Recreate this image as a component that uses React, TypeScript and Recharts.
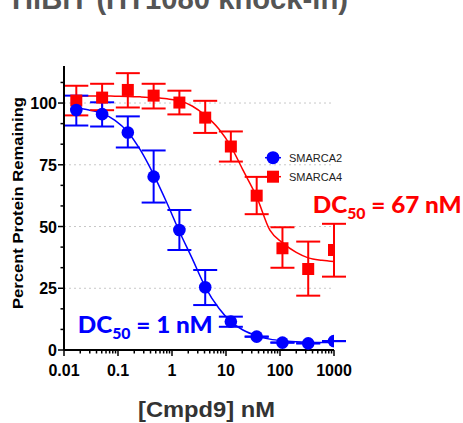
import React from 'react';
import {
  ComposedChart,
  Line,
  Scatter,
  XAxis,
  YAxis,
  ErrorBar,
  ReferenceLine,
} from 'recharts';

// Concentrations (nM), 3-fold dilution series
const conc = [0.0169, 0.0508, 0.152, 0.457, 1.37, 4.12, 12.3, 37.0, 111, 333, 1000];

// SMARCA2 (blue circles)
const a2Mean = [97.2, 95.5, 88.1, 70.2, 48.6, 25.4, 11.5, 5.4, 3.0, 2.7, 3.6];
const a2Low = [90.9, 90.5, 82.0, 59.7, 40.5, 18.2, 9.4, 5.4, 3.0, 2.7, 3.6];
const a2High = [103.0, 100.3, 94.6, 80.8, 56.7, 32.4, 13.5, 5.4, 3.0, 2.7, 3.6];

// SMARCA4 (red squares)
const a4Mean = [101.0, 102.2, 105.3, 103.0, 100.2, 94.1, 82.4, 62.5, 41.2, 32.8, 40.5];
const a4Low = [95.0, 97.1, 98.2, 97.8, 95.4, 87.9, 76.3, 55.0, 33.3, 22.0, 29.7];
const a4High = [107.0, 107.8, 112.1, 107.8, 105.0, 100.9, 88.5, 70.1, 49.7, 43.9, 51.1];

// Fitted curves
const curveX = [0.0169, 0.029, 0.0508, 0.088, 0.152, 0.259, 0.457, 0.81, 1.37, 2.36, 4.12, 7.38, 12.3, 21, 37, 65, 111, 200, 333, 600, 1000];
const a2Curve = [98.0, 97.2, 95.8, 93.0, 88.3, 81.0, 71.0, 59.4, 48.0, 37.1, 25.6, 16.9, 11.5, 8.0, 5.8, 4.4, 3.7, 3.3, 3.1, 3.0, 3.0];
const a4Curve = [102.9, 102.9, 102.9, 102.8, 102.7, 102.5, 102.2, 101.7, 100.9, 98.8, 95.0, 89.5, 82.5, 72.5, 62.0, 48.5, 43.5, 39.5, 37.3, 36.3, 35.8];

// Axis ticks
const xMajor = [0.01, 0.1, 1, 10, 100, 1000];
const xMinorMult = [2, 3, 4, 5, 6, 7, 8, 9];
const xTickLabels = ['0.01', '0.1', '1', '10', '100', '1000'];
const yMajor = [0, 25, 50, 75, 100];
const yTicksAll = [0, 8.333, 16.667, 25, 33.333, 41.667, 50, 58.333, 66.667, 75, 83.333, 91.667, 100, 108.333];
const gridLines = [25, 50, 75, 100];

const BLUE = '#0000ff';
const RED = '#ff0000';

const xTicksAll: number[] = [];
xMajor.forEach((m, i) => {
  xTicksAll.push(m);
  if (i < xMajor.length - 1) xMinorMult.forEach((k) => xTicksAll.push(+(m * k).toPrecision(6)));
});

const a2Data = conc.map((x, i) => ({ x, y: a2Mean[i], err: [a2Mean[i] - a2Low[i], a2High[i] - a2Mean[i]] }));
const a4Data = conc.map((x, i) => ({ x, y: a4Mean[i], err: [a4Mean[i] - a4Low[i], a4High[i] - a4Mean[i]] }));
const a2CurveData = curveX.map((x, i) => ({ x, y: a2Curve[i] }));
const a4CurveData = curveX.map((x, i) => ({ x, y: a4Curve[i] }));

const FONT = '"Liberation Sans", Arial, sans-serif';

const XTick = (props: any) => {
  const { x, y, payload } = props;
  const v = payload.value;
  const idx = xMajor.findIndex((m) => Math.abs(m - v) / m < 1e-6);
  const major = idx >= 0;
  return (
    <g>
      <line x1={x} x2={x} y1={y} y2={y + (major ? 6 : 3.5)} stroke="#000" strokeWidth={1.5} />
      {major && (
        <text x={x} y={y + 26} textAnchor="middle" fontFamily={FONT} fontWeight="bold" fontSize={16} fill="#000">
          {xTickLabels[idx]}
        </text>
      )}
    </g>
  );
};

const YTick = (props: any) => {
  const { x, y, payload } = props;
  const v = payload.value;
  const major = yMajor.some((m) => Math.abs(m - v) < 1e-6);
  return (
    <g>
      <line x1={x - (major ? 6 : 3.5)} x2={x} y1={y} y2={y} stroke="#000" strokeWidth={1.5} />
      {major && (
        <text x={x - 7} y={y + 6} textAnchor="end" fontFamily={FONT} fontWeight="bold" fontSize={16} fill="#000">
          {Math.round(v)}
        </text>
      )}
    </g>
  );
};

const Circle = (props: any) => <circle cx={props.cx} cy={props.cy} r={6.3} fill={BLUE} />;
const Square = (props: any) => <rect x={props.cx - 6} y={props.cy - 6} width={12} height={12} fill={RED} />;

export default function App() {
  return (
    <div style={{ position: 'absolute', left: 0, top: 0, width: 463, height: 423, background: '#fff' }}>
      <ComposedChart
        width={463}
        height={423}
        margin={{ top: 66, right: 129, bottom: 0, left: 0 }}
        style={{ position: 'absolute', left: 0, top: 0 }}
      >
        <XAxis
          type="number"
          dataKey="x"
          scale="log"
          domain={[0.01, 1000]}
          ticks={xTicksAll}
          interval={0}
          allowDataOverflow
          height={73}
          tickLine={false}
          tickSize={0}
          tickMargin={0}
          tick={<XTick />}
          axisLine={{ stroke: '#000', strokeWidth: 2 }}
        />
        <YAxis
          type="number"
          dataKey="y"
          domain={[0, 115]}
          ticks={yTicksAll}
          interval={0}
          width={64}
          tickLine={false}
          tickSize={0}
          tickMargin={0}
          tick={<YTick />}
          axisLine={{ stroke: '#000', strokeWidth: 2 }}
        />
        {gridLines.map((g) => (
          <ReferenceLine key={g} y={g} stroke="#c8c8c8" strokeDasharray="2 3" strokeWidth={1} />
        ))}
        <Line data={a2CurveData} dataKey="y" type="monotone" stroke={BLUE} strokeWidth={1.5} dot={false} isAnimationActive={false} />
        <Line data={a4CurveData} dataKey="y" type="monotone" stroke={RED} strokeWidth={1.5} dot={false} isAnimationActive={false} />
        <Scatter data={a4Data} dataKey="y" shape={<Square />} isAnimationActive={false}>
          <ErrorBar dataKey="err" direction="y" width={12} strokeWidth={2} stroke={RED} />
        </Scatter>
        <Scatter data={a2Data} dataKey="y" shape={<Circle />} isAnimationActive={false}>
          <ErrorBar dataKey="err" direction="y" width={12} strokeWidth={2} stroke={BLUE} />
        </Scatter>
      </ComposedChart>
      <svg width={463} height={423} style={{ position: 'absolute', left: 0, top: 0, pointerEvents: 'none' }}>
        <text x={12} y={9} fontFamily={FONT} fontWeight="bold" fontSize={29} fill="#555" textLength={336} lengthAdjust="spacingAndGlyphs">
          HiBiT (HT1080 knock-in)
        </text>
        <text
          transform="translate(23,203) rotate(-90)"
          textAnchor="middle"
          fontFamily={FONT}
          fontWeight="bold"
          fontSize={14.5}
          fill="#000"
          textLength={212}
          lengthAdjust="spacingAndGlyphs"
        >
          Percent Protein Remaining
        </text>
        <text x={206.5} y={417} textAnchor="middle" fontFamily={FONT} fontWeight="bold" fontSize={22} fill="#333" textLength={137} lengthAdjust="spacingAndGlyphs">
          [Cmpd9] nM
        </text>
        {/* legend */}
        <line x1={265} x2={281} y1={157.7} y2={157.7} stroke={BLUE} strokeWidth={1.5} />
        <circle cx={273} cy={157.7} r={6.5} fill={BLUE} />
        <text x={289} y={161.5} fontFamily={FONT} fontSize={11} fill="#222">SMARCA2</text>
        <line x1={265} x2={281} y1={176.7} y2={176.7} stroke={RED} strokeWidth={1.5} />
        <rect x={267} y={170.7} width={12} height={12} fill={RED} />
        <text x={289} y={180.5} fontFamily={FONT} fontSize={11} fill="#222">SMARCA4</text>
        {/* DC50 annotations */}
        <text x={312.7} y={213.3} fontFamily="Lato, sans-serif" fontWeight={900} fontSize={23} fill={RED} textLength={149} lengthAdjust="spacingAndGlyphs">
          DC<tspan dy={6} fontSize={15}>50</tspan><tspan dy={-6}> = 67 nM</tspan>
        </text>
        <text x={77.7} y={333.3} fontFamily="Lato, sans-serif" fontWeight={900} fontSize={23} fill={BLUE} textLength={135} lengthAdjust="spacingAndGlyphs">
          DC<tspan dy={6} fontSize={15}>50</tspan><tspan dy={-6}> = 1 nM</tspan>
        </text>
      </svg>
    </div>
  );
}
